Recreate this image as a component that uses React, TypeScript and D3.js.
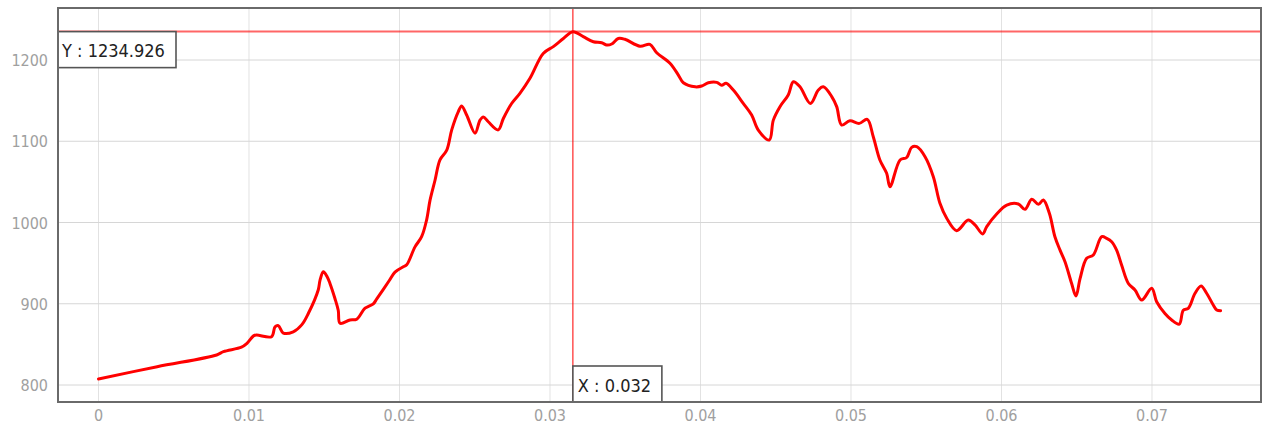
import React from "react";
import * as d3 from "d3";

const xValues = [
  0, 0.0039, 0.00785, 0.0083, 0.0095, 0.00985, 0.0103, 0.0105, 0.0115, 0.01173,
  0.01195, 0.01228, 0.01294, 0.0135, 0.01394, 0.0146, 0.01472, 0.01494, 0.0152, 0.01538,
  0.01571, 0.01593, 0.01605, 0.01671, 0.01716, 0.01771, 0.01826, 0.01849, 0.0193, 0.0197,
  0.02025, 0.02048, 0.02103, 0.02147, 0.0218, 0.02203, 0.02236, 0.02269, 0.02314, 0.02347,
  0.02391, 0.02413, 0.02447, 0.02502, 0.02535, 0.02557, 0.0259, 0.02656, 0.0269, 0.02745,
  0.028, 0.02867, 0.02955, 0.03022, 0.03089, 0.03152, 0.03221, 0.03288, 0.03343, 0.03377,
  0.0341, 0.03454, 0.03498, 0.03598, 0.03664, 0.03709, 0.03797, 0.03853, 0.03886, 0.03965,
  0.04008, 0.04052, 0.04108, 0.04141, 0.0417, 0.04218, 0.04284, 0.0434, 0.04384, 0.04457,
  0.04484, 0.04528, 0.04583, 0.04617, 0.04661, 0.0473, 0.04783, 0.04816, 0.04872, 0.04905,
  0.04938, 0.04993, 0.05055, 0.05108, 0.05148, 0.05192, 0.05237, 0.05259, 0.05326, 0.0537,
  0.05403, 0.05437, 0.05492, 0.05547, 0.05591, 0.05636, 0.05702, 0.05779, 0.05824, 0.05875,
  0.05902, 0.05968, 0.06035, 0.06112, 0.06156, 0.06201, 0.06245, 0.06278, 0.06318, 0.06355,
  0.06389, 0.06422, 0.06466, 0.06495, 0.06522, 0.06566, 0.0661, 0.06666, 0.06699, 0.06732,
  0.06765, 0.06798, 0.06843, 0.06887, 0.06932, 0.06998, 0.07031, 0.07086, 0.07131, 0.07181,
  0.07208, 0.07241, 0.07286, 0.07326, 0.07363, 0.07407, 0.0743, 0.07456,
];

const yValues = [
  807.5, 822.5, 837, 841, 846.5, 851, 860.5, 861.5, 859.5, 871.5,
  873, 864, 865.5, 874, 888, 917, 929, 939.5, 933, 925,
  906.5, 892, 876, 880, 881, 894.5, 900, 906, 928, 939,
  945.5, 948, 970, 982.5, 1003, 1027.5, 1052, 1077, 1089, 1114,
  1136.5, 1143.5, 1132, 1110, 1126, 1130, 1124, 1114, 1128, 1146.5,
  1159, 1177.5, 1208, 1216.5, 1226.5, 1234.9, 1228.7, 1222.5, 1221.3, 1218.5,
  1219.7, 1226.5, 1225.5, 1217, 1219.3, 1209, 1196, 1181.5, 1172, 1167,
  1168, 1172, 1172.5, 1169, 1171.3, 1163, 1146.7, 1132.3, 1113.8, 1101.5,
  1126, 1142.6, 1157, 1173.3, 1167, 1146.5, 1163, 1167, 1155, 1142.6,
  1120, 1125.3, 1122, 1127, 1105.6, 1077, 1060.5, 1044, 1077, 1080,
  1092.5, 1093.3, 1081, 1056.4, 1023.6, 1005.2, 990, 1003, 997, 986,
  995, 1010.5, 1021.5, 1022.8, 1016.2, 1028.6, 1022.4, 1027.7, 1011.3, 982.5,
  966, 951.8, 925, 909.5, 931, 956, 960, 982.5, 980.5, 976.4,
  966, 947.7, 925, 917, 904.6, 919, 902.5, 888, 880, 875,
  892, 894.4, 913, 922, 913, 898.5, 892.3, 891.4,
];

const xTicks = [0, 0.01, 0.02, 0.03, 0.04, 0.05, 0.06, 0.07];
const xTickLabels = ["0", "0.01", "0.02", "0.03", "0.04", "0.05", "0.06", "0.07"];
const yTicks = [800, 900, 1000, 1100, 1200];
const yTickLabels = ["800", "900", "1000", "1100", "1200"];

const crosshairX = 0.03152;
const crosshairY = 1234.926;

const W = 1262;
const H = 425;
const left = 58;
const right = 1261;
const top = 8;
const bottom = 402;

export default function App() {
  const x = d3.scaleLinear().domain([-0.002691, 0.077243]).range([left, right]);
  const y = d3.scaleLinear().domain([779.1, 1264.0]).range([bottom, top]);
  const data = xValues.map((v, i) => [v, yValues[i]] as [number, number]);
  const line = d3
    .line<[number, number]>()
    .x((d) => x(d[0]))
    .y((d) => y(d[1]))
    .curve(d3.curveCatmullRom.alpha(0.5));

  const cx = x(crosshairX);
  const cy = y(crosshairY);
  const font = "'DejaVu Sans Condensed', 'DejaVu Sans', sans-serif";

  return (
    <svg
      width={W}
      height={H}
      style={{ position: "absolute", left: 0, top: 0, background: "#fff" }}
    >
      <rect x={0} y={0} width={W} height={H} fill="#fff" />
      {/* grid */}
      {xTicks.map((t) => (
        <line key={"gx" + t} x1={x(t)} x2={x(t)} y1={top} y2={bottom} stroke="#e2e2e2" strokeWidth={1} />
      ))}
      {yTicks.map((t) => (
        <line key={"gy" + t} x1={left} x2={right} y1={y(t)} y2={y(t)} stroke="#d6d6d6" strokeWidth={1} />
      ))}
      {/* tick labels */}
      {xTicks.map((t, i) => (
        <text key={"tx" + t} x={x(t)} y={421} textAnchor="middle" fontFamily={font} fontSize={16} fill="#a0a0a0">
          {xTickLabels[i]}
        </text>
      ))}
      {yTicks.map((t, i) => (
        <text key={"ty" + t} x={48} y={y(t) + 6} textAnchor="end" fontFamily={font} fontSize={16} fill="#a0a0a0">
          {yTickLabels[i]}
        </text>
      ))}
      {/* series */}
      <path d={line(data) || ""} fill="none" stroke="#ff0000" strokeWidth={3} strokeLinejoin="round" strokeLinecap="round" />
      {/* crosshair */}
      <line x1={left} x2={right} y1={cy} y2={cy} stroke="#ff0000" strokeOpacity={0.6} strokeWidth={2} />
      <line x1={cx} x2={cx} y1={top} y2={bottom} stroke="#ff0000" strokeOpacity={0.85} strokeWidth={1.2} />
      {/* Y label */}
      <rect x={left} y={cy} width={118} height={36} fill="#fff" stroke="#555" strokeWidth={1.6} />
      <text x={left + 4} y={cy + 25.5} fontFamily={font} fontSize={18} fill="#222">
        {"Y : " + crosshairY.toFixed(3)}
      </text>
      {/* X label */}
      <rect x={cx} y={bottom - 36} width={89} height={36} fill="#fff" stroke="#555" strokeWidth={1.6} />
      <text x={cx + 5} y={bottom - 10} fontFamily={font} fontSize={18} fill="#222">
        {"X : " + crosshairX.toFixed(3)}
      </text>
      {/* frame */}
      <rect x={left} y={top} width={right - left} height={bottom - top} fill="none" stroke="#6a6a6a" strokeWidth={2} />
    </svg>
  );
}
